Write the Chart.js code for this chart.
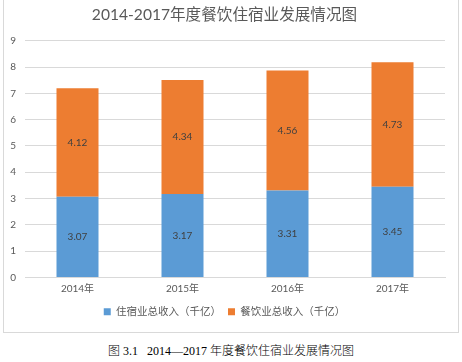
<!DOCTYPE html>
<html>
<head>
<meta charset="utf-8">
<script src="https://cdn.jsdelivr.net/npm/chart.js@4"></script>
<style>
  body { margin: 0; background: #fff; width: 462px; height: 362px; position: relative; overflow: hidden; }
  #frame { position: absolute; left: 3px; top: -1px; width: 454px; height: 332px; border: 1px solid #d9d9d9; }
  #caption { position: absolute; left: 0; width: 462px; top: 341px; text-align: center;
    font: 300 12px "Liberation Serif", "Noto Sans CJK SC", serif; color: #000; white-space: pre; }
</style>
</head>
<body>
<div id="frame"><canvas id="chart" width="454" height="332"></canvas></div>
<div id="caption">图 3.1   2014—2017 年度餐饮住宿业发展情况图</div>
<script>
const years = ["2014年", "2015年", "2016年", "2017年"];
const lodging = [3.07, 3.17, 3.31, 3.45];
const catering = [4.12, 4.34, 4.56, 4.73];
const seriesNames = ["住宿业总收入（千亿）", "餐饮业总收入（千亿）"];

const fontFamily = "Lato, 'Noto Sans CJK SC', sans-serif";

// write values in the middle of each bar segment
const barLabels = {
  id: "barLabels",
  afterDatasetsDraw(chart) {
    const ctx = chart.ctx;
    ctx.save();
    ctx.font = "10px " + fontFamily;
    ctx.fillStyle = "#404040";
    ctx.textAlign = "center";
    ctx.textBaseline = "middle";
    chart.data.datasets.forEach((ds, i) => {
      chart.getDatasetMeta(i).data.forEach((bar, j) => {
        const p = bar.getCenterPoint();
        ctx.fillText(ds.data[j].toFixed(2), p.x, p.y);
      });
    });
    ctx.restore();
  }
};

new Chart(document.getElementById("chart"), {
  type: "bar",
  data: {
    labels: years,
    datasets: [
      { label: seriesNames[0], data: lodging, backgroundColor: "#5b9bd5" },
      { label: seriesNames[1], data: catering, backgroundColor: "#ed7d31" }
    ]
  },
  plugins: [barLabels],
  options: {
    responsive: false,
    animation: false,
    layout: { padding: { left: 0, right: 13, top: 0, bottom: 5 } },
    datasets: { bar: { barPercentage: 0.4, categoryPercentage: 1 } },
    plugins: {
      title: {
        display: true,
        text: "2014-2017年度餐饮住宿业发展情况图",
        color: "#595959",
        font: { family: fontFamily, size: 15.6, weight: "normal" },
        padding: { top: 6, bottom: 16 }
      },
      legend: {
        position: "bottom",
        labels: {
          color: "#595959",
          boxWidth: 7,
          boxHeight: 7,
          padding: 7,
          font: { family: fontFamily, size: 10.5 }
        }
      },
      tooltip: { enabled: false }
    },
    scales: {
      x: {
        stacked: true,
        grid: { display: false, drawTicks: false },
        border: { display: true, color: "#d9d9d9" },
        ticks: { color: "#595959", font: { family: fontFamily, size: 10 }, padding: 5 }
      },
      y: {
        stacked: true,
        min: 0,
        max: 9,
        border: { display: false },
        grid: { color: "#d9d9d9", drawTicks: false },
        ticks: { stepSize: 1, color: "#595959", font: { family: fontFamily, size: 10 }, padding: 9 },
        afterFit(scale) { scale.width = 21; }
      }
    }
  }
});
</script>
</body>
</html>
